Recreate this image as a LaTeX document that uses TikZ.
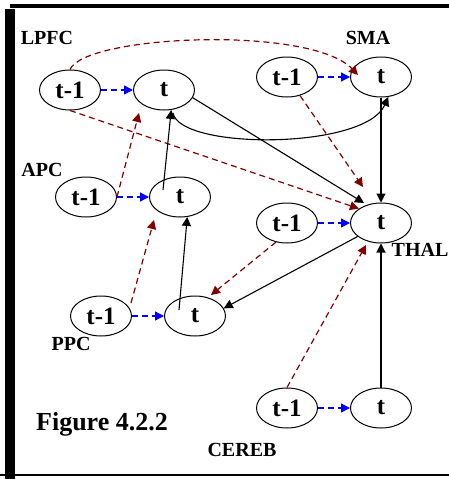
\documentclass[tikz,border=0pt]{standalone}
\usepackage{fontspec}
\setmainfont{Liberation Serif}
\usetikzlibrary{arrows.meta,positioning,shapes.geometric}
\definecolor{darkred}{RGB}{128,0,0}

\begin{document}
\begin{tikzpicture}[x=1pt, y=-1pt, node distance=32pt, >={Triangle[length=9pt,width=9pt]},
  state/.style={draw, ellipse, line width=1pt, minimum width=61pt, minimum height=40pt, inner sep=0pt, font=\fontsize{25}{28}\selectfont\bfseries},
  area/.style={inner sep=0pt, font=\fontsize{20}{24}\selectfont\bfseries},
  self/.style={->, blue, dash pattern=on 6pt off 4pt, line width=1.3pt},
  cross/.style={->, darkred, dash pattern=on 6pt off 4pt, line width=1.2pt},
  fwd/.style={->, line width=1.1pt}]
  \useasboundingbox (0,0) rectangle (449,479);
  % frame
  \fill (5,9) rectangle (15,479);
  \fill (10,4) rectangle (449,8);
  \draw[line width=1.5pt] (0,475) -- (449,475);

  % states, previous step on the left
  \node[state] (lpfcp) at (70,90) {t-1};
  \node[state, right=of lpfcp] (lpfc) {t};
  \node[state] (smap) at (287,77) {t-1};
  \node[state, right=of smap] (sma) {t};
  \node[state] (apcp) at (86,197) {t-1};
  \node[state, right=of apcp] (apc) {t};
  \node[state] (thalp) at (287,223) {t-1};
  \node[state, right=of thalp] (thal) {t};
  \node[state] (ppcp) at (101,316) {t-1};
  \node[state, right=of ppcp] (ppc) {t};
  \node[state] (cerebp) at (287,408) {t-1};
  \node[state, right=of cerebp] (cereb) {t};

  \node[area] (lpfclab) at (47,38) {LPFC};
  \node[area] (smalab) at (368,38) {SMA};
  \node[area] (apclab) at (42,170) {APC};
  \node[area] (thallab) at (420,250) {THAL};
  \node[area] (ppclab) at (71,344) {PPC};
  \node[area] (cereblab) at (242,450) {CEREB};
  \node[inner sep=0pt, font=\fontsize{26}{30}\selectfont\bfseries] (fig) at (102,424) {Figure 4.2.2};

  \draw[self] (lpfcp) -- (lpfc); \draw[self] (smap) -- (sma); \draw[self] (apcp) -- (apc);
  \draw[self] (thalp) -- (thal); \draw[self] (ppcp) -- (ppc); \draw[self] (cerebp) -- (cereb);

  \draw[cross] (lpfcp.north) .. controls (85,35) and (310,25) .. ([xshift=-23pt,yshift=2pt]sma.center);
  \draw[cross] (lpfcp.south) -- (thal.147);
  \draw[cross] (smap.-55) -- ([xshift=-18pt,yshift=36pt]thal.center);
  \draw[cross] (apcp.east) -- ([xshift=-25pt,yshift=-23pt]lpfc.center);
  \draw[cross] ([xshift=30pt,yshift=13pt]ppcp.center) -- ([xshift=-26pt,yshift=-23pt]apc.center);
  \draw[cross] (thalp.240) -- ([xshift=16pt,yshift=21pt]ppc.center);
  \draw[cross] (cerebp.north) -- ([xshift=-15pt,yshift=-22pt]thal.center);

  \draw[fwd] (lpfc.-15) -- ([xshift=-17pt,yshift=20pt]thal.center);
  \draw[fwd] ([xshift=-17pt,yshift=7pt]apc.center) -- (lpfc.-70);
  \draw[fwd] ([xshift=9pt,yshift=-23pt]lpfc.center) .. controls (180,150) and (365,150) .. (sma.-70);
  \draw[fwd] (sma) -- (thal);
  \draw[fwd] (thal.210) -- (ppc.15);
  \draw[fwd] ([xshift=-16pt,yshift=6pt]ppc.center) -- (apc.-70);
  \draw[fwd] (cereb) -- (thal);
\end{tikzpicture}
\end{document}
